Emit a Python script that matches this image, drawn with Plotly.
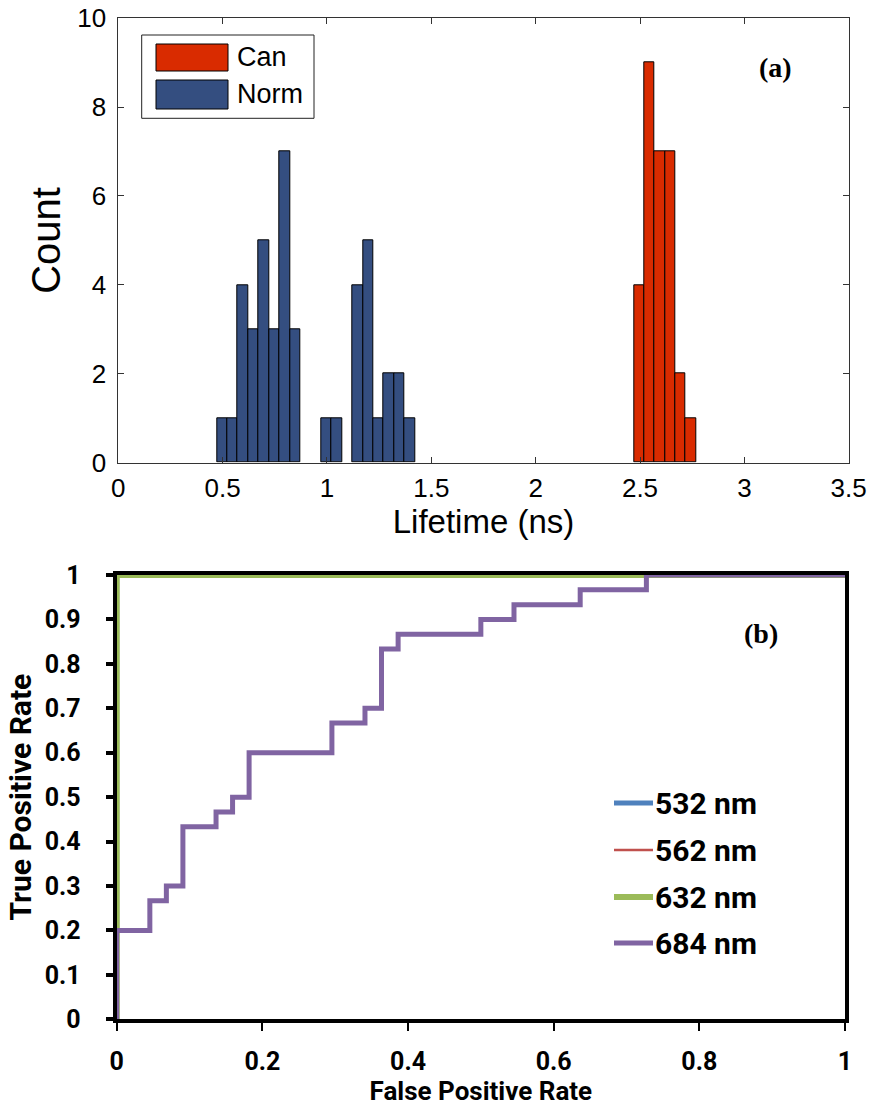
import plotly.graph_objects as go

# ---------------- data ----------------
# (a) lifetime histogram
norm_centers = [0.497, 0.547, 0.597, 0.647, 0.697, 0.747, 0.797, 0.847,
                0.997, 1.047, 1.147, 1.197, 1.247, 1.297, 1.347, 1.397]
norm_counts = [1, 1, 4, 3, 5, 3, 7, 3, 1, 1, 4, 5, 1, 2, 2, 1]
can_centers = [2.496, 2.545, 2.595, 2.644, 2.694, 2.743]
can_counts = [4, 9, 7, 7, 2, 1]
hist_xticks = [0, 0.5, 1, 1.5, 2, 2.5, 3, 3.5]
hist_xticklabels = ["0", "0.5", "1", "1.5", "2", "2.5", "3", "3.5"]
hist_yticks = [0, 2, 4, 6, 8, 10]

# (b) ROC curves
roc_perfect_fpr = [0, 0, 1]
roc_perfect_tpr = [0, 1, 1]
roc_684_fpr = [0, 0, 0.0455, 0.0682, 0.0909, 0.1364, 0.1591, 0.1818, 0.2955,
               0.3409, 0.3636, 0.3864, 0.5, 0.5455, 0.6364, 0.7273, 1.0]
roc_684_tpr = [0, 0.2, 0.2667, 0.3, 0.4333, 0.4667, 0.5, 0.6, 0.6667,
               0.7, 0.8333, 0.8667, 0.9, 0.9333, 0.9667, 1.0, 1.0]
roc_labels = ["532 nm", "562 nm", "632 nm", "684 nm"]
roc_xticks = [0, 0.2, 0.4, 0.6, 0.8, 1]
roc_xticklabels = ["0", "0.2", "0.4", "0.6", "0.8", "1"]
roc_yticks = [0, 0.1, 0.2, 0.3, 0.4, 0.5, 0.6, 0.7, 0.8, 0.9, 1]
roc_yticklabels = ["0", "0.1", "0.2", "0.3", "0.4", "0.5", "0.6", "0.7", "0.8", "0.9", "1"]

# ---------------- styling ----------------
W, H = 870, 1108
def px(x):
    return x / W
def py(y):
    return 1 - y / H

C_CAN = "#d92b00"
C_NORM = "#344e80"
ROC_COLORS = ["#4f81bd", "#c0504d", "#9bbb59", "#8064a2"]
ROC_WIDTHS = [5, 2.5, 6, 5]
ARIAL = "Liberation Sans, Arial, sans-serif"
NARROW = "Roboto, Liberation Sans Narrow, DejaVu Sans Condensed, sans-serif"
SERIF = "Liberation Serif, Times New Roman, serif"

fig = go.Figure()

fig.add_trace(go.Bar(x=norm_centers, y=norm_counts, width=0.05, name="Norm",
                     marker=dict(color=C_NORM, line=dict(color="black", width=1)),
                     xaxis="x", yaxis="y", showlegend=False))
fig.add_trace(go.Bar(x=can_centers, y=can_counts, width=0.0495, name="Can",
                     marker=dict(color=C_CAN, line=dict(color="black", width=1)),
                     xaxis="x", yaxis="y", showlegend=False))

# ROC lines (532 and 562 lie under 632)
for i in range(3):
    fig.add_trace(go.Scatter(x=roc_perfect_fpr, y=roc_perfect_tpr, mode="lines",
                             name=roc_labels[i],
                             line=dict(color=ROC_COLORS[i], width=ROC_WIDTHS[i]),
                             xaxis="x2", yaxis="y2", showlegend=False))
fig.add_trace(go.Scatter(x=roc_684_fpr, y=roc_684_tpr, mode="lines", name=roc_labels[3],
                         line=dict(color=ROC_COLORS[3], width=ROC_WIDTHS[3], shape="hv"),
                         xaxis="x2", yaxis="y2", showlegend=False))

shapes = []
annotations = []

# legend (a)
shapes.append(dict(type="rect", xref="paper", yref="paper",
                   x0=px(141.7), x1=px(314), y0=py(118.3), y1=py(35),
                   line=dict(color="#222", width=1), fillcolor="white"))
for (label, col, y0, y1) in [("Can", C_CAN, 44, 71), ("Norm", C_NORM, 80, 109)]:
    shapes.append(dict(type="rect", xref="paper", yref="paper",
                       x0=px(156), x1=px(228), y0=py(y1), y1=py(y0),
                       line=dict(color="black", width=1), fillcolor=col))
    annotations.append(dict(text=label, xref="paper", yref="paper",
                            x=px(235), y=py((y0 + y1) / 2), xanchor="left", yanchor="middle",
                            showarrow=False, font=dict(family=ARIAL, size=27, color="black")))

# legend (b)
for i, (label, yc) in enumerate(zip(roc_labels, [803, 850, 897, 943])):
    shapes.append(dict(type="line", xref="paper", yref="paper",
                       x0=px(614), x1=px(653), y0=py(yc), y1=py(yc),
                       line=dict(color=ROC_COLORS[i], width=ROC_WIDTHS[i])))
    annotations.append(dict(text="<b>" + label + "</b>", xref="paper", yref="paper",
                            x=px(653), y=py(yc), xanchor="left", yanchor="middle",
                            showarrow=False, font=dict(family=NARROW, size=30, color="black")))

annotations.append(dict(text="<b>(a)</b>", xref="paper", yref="paper", x=px(775), y=py(68),
                        xanchor="center", yanchor="middle", showarrow=False,
                        font=dict(family=SERIF, size=28, color="black")))
annotations.append(dict(text="<b>(b)</b>", xref="paper", yref="paper", x=px(761), y=py(633),
                        xanchor="center", yanchor="middle", showarrow=False,
                        font=dict(family=SERIF, size=28, color="black")))

top_tick_font = dict(family=ARIAL, size=26, color="black")
bot_tick_font = dict(family=NARROW, size=25, color="black", weight="bold")

fig.update_layout(
    width=W, height=H, margin=dict(l=0, r=0, t=0, b=0, autoexpand=False),
    paper_bgcolor="white", plot_bgcolor="white",
    bargap=0, barmode="overlay",
    shapes=shapes, annotations=annotations,
    xaxis=dict(domain=[px(118.3), px(848.7)], range=[0, 3.5], anchor="y",
               tickmode="array", tickvals=hist_xticks, ticktext=hist_xticklabels,
               ticks="inside", ticklen=6, tickcolor="#333", showline=True, linecolor="#333",
               linewidth=1, mirror="ticks", showgrid=False, zeroline=False,
               tickfont=top_tick_font, ticklabelstandoff=2, automargin=False,
               title=dict(text="Lifetime (ns)", font=dict(family=ARIAL, size=33, color="black"),
                          standoff=4)),
    yaxis=dict(domain=[py(462.5), py(18.3)], range=[0, 10], anchor="x",
               tickmode="array", tickvals=hist_yticks,
               ticks="inside", ticklen=6, tickcolor="#333", showline=True, linecolor="#333",
               linewidth=1, mirror="ticks", showgrid=False, zeroline=False,
               tickfont=top_tick_font, ticklabelstandoff=6, automargin=False,
               title=dict(text="Count", font=dict(family=ARIAL, size=40, color="black"),
                          standoff=4)),
    xaxis2=dict(domain=[px(116.7), px(845)], range=[0, 1], anchor="y2",
                tickmode="array", tickvals=roc_xticks, ticktext=roc_xticklabels,
                ticks="outside", ticklen=8, tickwidth=2, tickcolor="black",
                showline=True, linecolor="black", linewidth=4, mirror=True,
                showgrid=False, zeroline=False, tickfont=bot_tick_font, ticklabelstandoff=9,
                automargin=False,
                title=dict(text="<b>False Positive Rate</b>",
                           font=dict(family=NARROW, size=26, color="black"), standoff=6)),
    yaxis2=dict(domain=[py(1019.3), py(575)], range=[0, 1], anchor="x2",
                tickmode="array", tickvals=roc_yticks, ticktext=roc_yticklabels,
                ticks="outside", ticklen=7, tickwidth=4, tickcolor="black",
                showline=True, linecolor="black", linewidth=4, mirror=True,
                showgrid=False, zeroline=False, tickfont=bot_tick_font, ticklabelstandoff=20,
                automargin=False,
                title=dict(text="<b>True Positive Rate</b>",
                           font=dict(family=NARROW, size=30, color="black"), standoff=5)),
)

fig.write_html("out.html")
